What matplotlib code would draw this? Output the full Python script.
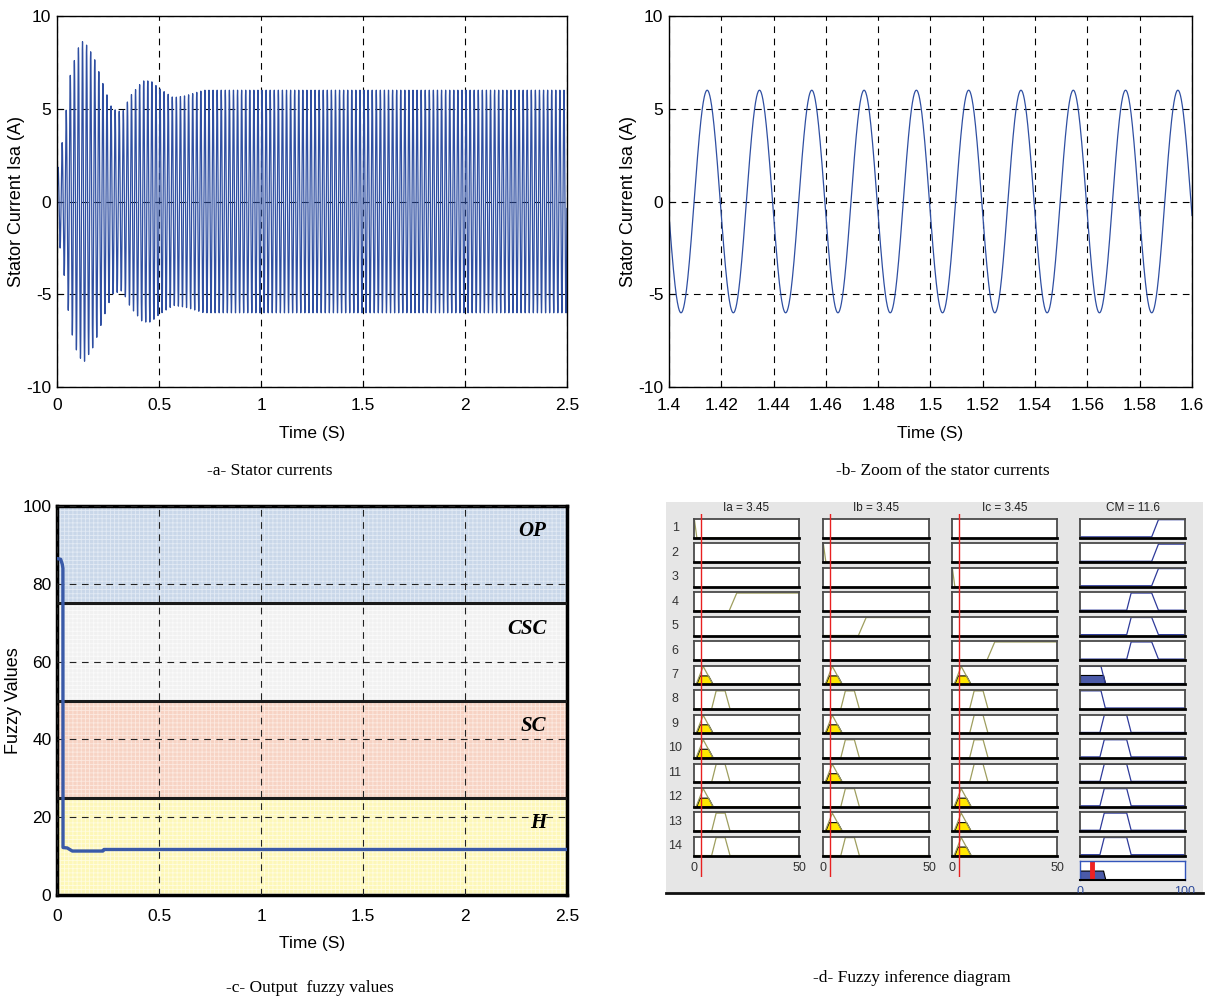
import numpy as np
import matplotlib
matplotlib.use('Agg')
import matplotlib.pyplot as plt
from matplotlib.ticker import MultipleLocator, FuncFormatter

W, H = 1214, 998

# -a- stator current: peak envelope (A), 50 Hz supply
env_t = [0.0, 0.03, 0.065, 0.10, 0.13, 0.18, 0.23, 0.27, 0.32, 0.36, 0.42, 0.46, 0.50, 0.57, 0.63, 0.72, 0.80, 2.5]
env_amp = [1.5, 3.5, 6.8, 8.2, 8.7, 7.8, 6.2, 5.0, 4.8, 5.7, 6.5, 6.5, 6.1, 5.6, 5.7, 6.0, 6.0, 6.0]
f_supply = 50.0

# -b- zoom window
zoom_t0, zoom_t1 = 1.4, 1.6
zoom_amp = 6.0
zoom_first_crest = 1.4146

# -c- output fuzzy value
cm_t = [0.0, 0.018, 0.026, 0.029, 0.0295, 0.05, 0.075, 0.225, 0.23, 2.5]
cm_val = [86.5, 86.3, 85.0, 84.0, 12.2, 12.1, 11.3, 11.3, 11.7, 11.7]
band_names = ['H', 'SC', 'CSC', 'OP']
band_lo = [0, 25, 50, 75]
band_hi = [25, 50, 75, 100]

# -d- fuzzy inference diagram (rule viewer)
in_names = ['Ia', 'Ib', 'Ic']
in_value = 3.45
cm_value = 11.6
fire_level = 0.5
in_mf = {'Z': [0, 0, 0.2, 1.3], 'P': [1.0, 4.4, 4.4, 9.0],
         'M': [8.4, 10.5, 14.8, 17.1], 'G': [16.7, 20.3, 50, 50]}
out_mf = {'H': [0, 0, 20, 24], 'SC': [19, 23, 44.5, 48.6],
          'CSC': [44.5, 48.6, 68.3, 74.6], 'OP': [68.3, 74.6, 100, 100]}
rule_in = [
    ['Z', '', '', 'G', '', '', 'P', 'M', 'P', 'P', 'M', 'P', 'M', 'M'],
    ['', 'Z', '', '', 'G', '', 'P', 'M', 'P', 'M', 'P', 'M', 'P', 'M'],
    ['', '', 'Z', '', '', 'G', 'P', 'M', 'M', 'M', 'M', 'P', 'P', 'P'],
]
rule_cm = ['OP', 'OP', 'OP', 'CSC', 'CSC', 'CSC', 'H', 'H', 'SC', 'SC', 'SC', 'SC', 'SC', 'SC']

SANS = ['Liberation Sans Narrow', 'Liberation Sans', 'DejaVu Sans']
plt.rcParams['font.family'] = SANS
plt.rcParams['hatch.linewidth'] = 0.6
plt.rcParams['axes.unicode_minus'] = False


def rect(x0, y0, x1, y1):
    return [x0 / W, 1 - y1 / H, (x1 - x0) / W, (y1 - y0) / H]


def trapmf(x, p):
    a, b, c, d = p
    up = np.ones_like(x) if b == a else (x - a) / (b - a)
    dn = np.ones_like(x) if d == c else (d - x) / (d - c)
    y = np.clip(np.minimum(up, dn), 0, 1)
    y[(x < a) | (x > d)] = 0
    return y


def matlab_axes(ax, lw=1.0):
    ax.grid(True, color='black', linestyle=(0, (6, 5)), linewidth=0.8)
    ax.tick_params(direction='in', length=4, labelsize=12.5)
    ax.tick_params(axis='x', pad=8)
    ax.tick_params(axis='y', pad=4)
    for s in ax.spines.values():
        s.set_linewidth(lw)
        s.set_color('black')
    ax.xaxis.set_major_formatter(FuncFormatter(lambda v, _: f'{v:g}'))


def labels(ax, ylab, ycoord=-0.062):
    ax.set_xlabel('Time (S)', fontsize=12.5, labelpad=9)
    ax.set_ylabel(ylab, fontsize=13, family=['Liberation Sans', 'DejaVu Sans'])
    ax.yaxis.set_label_coords(ycoord, 0.5)


fig = plt.figure(figsize=(W / 100, H / 100), dpi=100)
blue = '#2F4FA2'

# ---- panel a
ax = fig.add_axes(rect(57, 16, 567, 387))
t = np.arange(0, 2.5, 1 / 5000)
isa = np.interp(t, env_t, env_amp) * np.sin(2 * np.pi * f_supply * t)
ax.plot(t, isa, color=blue, lw=0.9)
ax.set_xlim(0, 2.5)
ax.set_ylim(-10, 10)
ax.xaxis.set_major_locator(MultipleLocator(0.5))
ax.yaxis.set_major_locator(MultipleLocator(5))
matlab_axes(ax)
labels(ax, 'Stator Current Isa (A)')

# ---- panel b
ax = fig.add_axes(rect(669, 16, 1192, 387))
tz = np.linspace(zoom_t0, zoom_t1, 2001)
ax.plot(tz, zoom_amp * np.cos(2 * np.pi * f_supply * (tz - zoom_first_crest)), color=blue, lw=0.9)
ax.set_xlim(zoom_t0, zoom_t1)
ax.set_ylim(-10, 10)
ax.xaxis.set_major_locator(MultipleLocator(0.02))
ax.yaxis.set_major_locator(MultipleLocator(5))
matlab_axes(ax)
labels(ax, 'Stator Current Isa (A)')

# ---- panel c
ax = fig.add_axes(rect(57, 506, 567, 895))
band_face = ['#FDF7B8', '#F7D3C4', '#F1F1F1', '#C9D7E9']
band_hatch = ['#FFFCE0', '#FCE9E0', '#FAFAFA', '#E2EAF4']
for name, lo, hi, fc, hc in zip(band_names, band_lo, band_hi, band_face, band_hatch):
    ax.axhspan(lo, hi, facecolor=fc, edgecolor=hc, hatch='++++', lw=0, zorder=0.5)
    ax.text(2.40, (lo + hi) / 2 + 6, name, ha='right', va='center', fontsize=15,
            family=['Liberation Serif', 'DejaVu Serif'], weight='bold', style='italic', zorder=5)
for lo in band_lo[1:]:
    ax.axhline(lo, color='#1a1a1a', lw=2.2, zorder=3)
ax.plot(cm_t, cm_val, color='#3A5AA8', lw=2.4, zorder=4, solid_capstyle='round')
ax.set_xlim(0, 2.5)
ax.set_ylim(0, 100)
ax.xaxis.set_major_locator(MultipleLocator(0.5))
ax.yaxis.set_major_locator(MultipleLocator(20))
ax.set_axisbelow(False)
matlab_axes(ax, lw=2.5)
ax.grid(True, color='#222222', linestyle=(0, (6, 5)), linewidth=0.8)
ax.tick_params(length=0)
ax.tick_params(axis='x', pad=10)
labels(ax, 'Fuzzy Values', ycoord=-0.068)

# ---- panel d: rule viewer
bg = fig.add_axes(rect(666, 502, 1203, 893), zorder=-1)
bg.set_facecolor('#E6E6E6')
bg.set_xticks([])
bg.set_yticks([])
for k, s in bg.spines.items():
    s.set_visible(k == 'bottom')
bg.spines['bottom'].set_linewidth(2)
bg.spines['bottom'].set_color('#111111')

col_x = [(694, 799), (823, 929), (952, 1057), (1080, 1185)]
row_top, row_pitch, row_h = 519.0, 24.45, 18.7
olive, mfblue = '#9E9E5E', '#2E3A9A'
yellow, fillblue = '#FFE800', '#4B5AA8'
small = ['Liberation Sans', 'DejaVu Sans']


def cell(x0, x1, r, xmax, ylo):
    y0 = row_top + r * row_pitch
    a = fig.add_axes(rect(x0, y0, x1, y0 + row_h))
    a.set_xlim(0, xmax)
    a.set_ylim(ylo, 1.04)
    a.set_xticks([])
    a.set_yticks([])
    for s in a.spines.values():
        s.set_color('#4a4a4a')
        s.set_linewidth(1.3)
    a.spines['bottom'].set_color('black')
    a.spines['bottom'].set_linewidth(2)
    return a


xs_in = np.linspace(0, 50, 2001)
xs_out = np.linspace(0, 100, 2001)
for c, name in enumerate(in_names):
    x0, x1 = col_x[c]
    for r, mf in enumerate(rule_in[c]):
        a = cell(x0, x1, r, 50, 0.0)
        if c == 0:
            a.text(-0.18, 0.5, str(r + 1), transform=a.transAxes, ha='center', va='center',
                   fontsize=9, color='#333333', family=small)
        if r == 0:
            a.text(0.5, 1.57, f'{name} = {in_value:.2f}', transform=a.transAxes, ha='center',
                   va='center', fontsize=8.5, color='#222222', family=small)
        if mf:
            mu = trapmf(xs_in, in_mf[mf])
            a.plot(xs_in, mu, color=olive, lw=0.9)
            if np.interp(in_value, xs_in, mu) > 0:
                a.fill_between(xs_in, 0, np.minimum(mu, fire_level), where=mu > 0,
                               facecolor=yellow, edgecolor='black', lw=0.8)
        if r == len(rule_in[c]) - 1:
            a.text(0, -0.35, '0', transform=a.get_xaxis_transform(), ha='center', va='top',
                   fontsize=9, color='#333333', family=small)
            a.text(50, -0.35, '50', transform=a.get_xaxis_transform(), ha='center', va='top',
                   fontsize=9, color='#333333', family=small)
    ov = fig.add_axes(rect(x0, 514, x1, 877), zorder=5)
    ov.set_xlim(0, 50)
    ov.axis('off')
    ov.axvline(in_value, color='#E82020', lw=1.0)

fired = [all(np.interp(in_value, xs_in, trapmf(xs_in, in_mf[rule_in[c][r]])) > 0
             for c in range(3) if rule_in[c][r]) for r in range(len(rule_cm))]
x0, x1 = col_x[3]
for r, mf in enumerate(rule_cm):
    a = cell(x0, x1, r, 100, -0.05)
    if r == 0:
        a.text(0.5, 1.57, f'CM = {cm_value:g}', transform=a.transAxes, ha='center',
               va='center', fontsize=8.5, color='#222222', family=small)
    mu = trapmf(xs_out, out_mf[mf])
    a.plot(xs_out, mu, color=mfblue, lw=0.9)
    if fired[r]:
        a.fill_between(xs_out, 0, np.minimum(mu, fire_level), where=mu > 0,
                       facecolor=fillblue, edgecolor='black', lw=0.8)

agg = cell(x0, x1, len(rule_cm), 100, -0.05)
for s in agg.spines.values():
    s.set_color('#3355BB')
    s.set_linewidth(1.0)
agg.spines['bottom'].set_color('black')
agg.spines['bottom'].set_linewidth(1.5)
mu = trapmf(xs_out, out_mf['H'])
agg.fill_between(xs_out, 0, np.minimum(mu, fire_level), where=mu > 0,
                 facecolor=fillblue, edgecolor='black', lw=0.8)
agg.axvline(cm_value, color='#EE2222', lw=3.5)
for v in (0, 100):
    tx = agg.text(v, -0.3, f'{v}', transform=agg.get_xaxis_transform(), ha='center', va='top',
                  fontsize=9, color='#2E4A9A', family=small)
    tx.set_clip_box(bg.bbox)
    tx.set_clip_on(True)

# ---- captions
serif = ['Liberation Serif', 'DejaVu Serif']
fig.text(270 / W, 1 - 471 / H, '-a- Stator currents', ha='center', va='center', fontsize=12.5, family=serif)
fig.text(943 / W, 1 - 471 / H, '-b- Zoom of the stator currents', ha='center', va='center', fontsize=12.5, family=serif)
fig.text(310 / W, 1 - 988 / H, '-c- Output  fuzzy values', ha='center', va='center', fontsize=12.5, family=serif)
fig.text(912 / W, 1 - 978 / H, '-d- Fuzzy inference diagram', ha='center', va='center', fontsize=12.5, family=serif)

fig.savefig('out.png', dpi=100)
